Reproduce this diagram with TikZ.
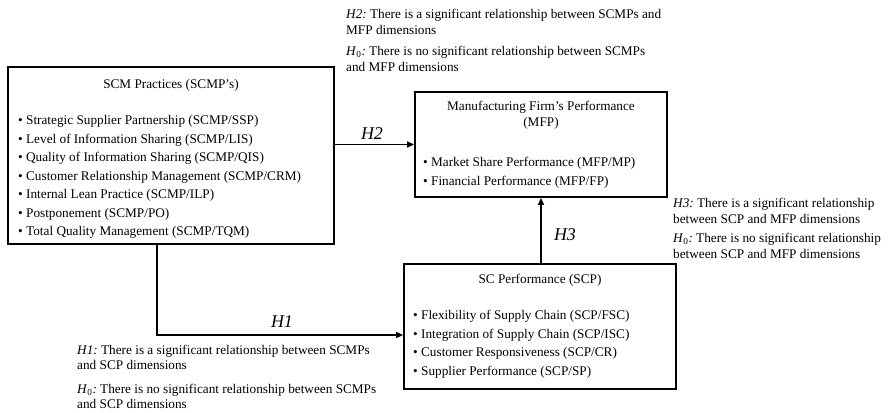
\documentclass[tikz,border=0pt]{standalone}
\usepackage{fontspec}
\setmainfont{Liberation Serif}
\usetikzlibrary{arrows.meta}
\frenchspacing
\begin{document}
\begin{tikzpicture}[x=1bp,y=-1bp,
  box/.style={draw,line width=1.8bp,inner sep=0pt},
  arr/.style={line width=1.5bp,-{Triangle[length=7bp,width=6bp]}},
  txt/.style={inner sep=0pt,anchor=north west,align=left,font=\fontsize{13.3}{16}\selectfont},
  lst/.style={inner sep=0pt,anchor=north west,align=left,font=\fontsize{13.3}{18.6}\selectfont},
  ttl/.style={inner sep=0pt,align=center,font=\fontsize{13.3}{16}\selectfont},
  hyp/.style={inner sep=0pt,font=\fontsize{18}{18}\selectfont\itshape}
]
\useasboundingbox (0,0) rectangle (888,412);

% boxes
\node[box,minimum width=326bp,minimum height=177bp] (scmp) at (171,155.5) {};
\node[box,minimum width=252bp,minimum height=105bp] (mfp) at (541,144.5) {};
\node[box,minimum width=272bp,minimum height=125bp] (scp) at (540,326.5) {};

% titles
\node[ttl] (scmpt) at (171,85) {SCM Practices (SCMP's)};
\node[ttl] (mfpt) at (541,115.5) {Manufacturing Firm's Performance\\(MFP)};
\node[ttl] (scpt) at (540,280) {SC Performance (SCP)};

% lists
\node[lst] (scmpl) at (18,115.3) {• Strategic Supplier Partnership (SCMP/SSP)\\
• Level of Information Sharing (SCMP/LIS)\\
• Quality of Information Sharing (SCMP/QIS)\\
• Customer Relationship Management (SCMP/CRM)\\
• Internal Lean Practice (SCMP/ILP)\\
• Postponement (SCMP/PO)\\
• Total Quality Management (SCMP/TQM)};
\node[lst] (mfpl) at (423,157.3) {• Market Share Performance (MFP/MP)\\
• Financial Performance (MFP/FP)};
\node[lst] (scpl) at (413,310.3) {• Flexibility of Supply Chain (SCP/FSC)\\
• Integration of Supply Chain (SCP/ISC)\\
• Customer Responsiveness (SCP/CR)\\
• Supplier Performance (SCP/SP)};

% connectors
\draw[arr] (mfp.west -| scmp.east) -- (mfp.west);
\draw[arr] (scp.north -| mfp.south) -- (mfp.south);
\draw[arr] ([xshift=-14bp]scmp.south) |- ([yshift=-8.5bp]scp.west);

% hypothesis labels
\node[hyp] (h2) at (372,133.5) {H2};
\node[hyp] (h3) at (565,235) {H3};
\node[hyp] (h1) at (282,321.5) {H1};

% annotations
\node[txt] (h2a) at (346,9.3) {\textit{H2:} There is a significant relationship between SCMPs and\\MFP dimensions};
\node[txt] (h2b) at (346,46.3) {\textit{H}\textsubscript{0}\textit{:} There is no significant relationship between SCMPs\\and MFP dimensions};
\node[txt] (h3a) at (673,197.8) {\textit{H3:} There is a significant relationship\\between SCP and MFP dimensions};
\node[txt] (h3b) at (673,233.3) {\textit{H}\textsubscript{0}\textit{:} There is no significant relationship\\between SCP and MFP dimensions};
\node[txt] (h1a) at (77,344.5) {\textit{H1:} There is a significant relationship between SCMPs\\and SCP dimensions};
\node[txt] (h1b) at (77,383.5) {\textit{H}\textsubscript{0}\textit{:} There is no significant relationship between SCMPs\\and SCP dimensions};
\end{tikzpicture}
\end{document}
